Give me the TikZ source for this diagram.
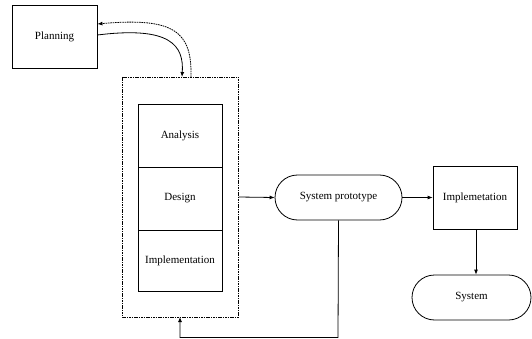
\documentclass[tikz,border=0pt]{standalone}
\usepackage{fontspec}
\setmainfont{Liberation Serif}
\usetikzlibrary{arrows.meta,shapes.misc}
\begin{document}
\begin{tikzpicture}[x=1pt,y=-1pt,
  every node/.style={font=\fontsize{11}{13}\selectfont},
  box/.style={draw,line width=0.8pt,inner sep=0pt},
  stadium/.style={draw,line width=0.8pt,rounded rectangle,inner sep=0pt},
  frame/.style={draw,dash pattern=on 1.6pt off 0.8pt,line width=0.8pt},
  link/.style={line width=0.8pt,-{Latex[length=5pt,width=4pt]}}]
\useasboundingbox (0,0) rectangle (532,339);

% planning box and the dashed frame round the iteration steps
\node[box,minimum width=85pt,minimum height=63pt] (plan) at (54.5,36.5) {Planning};
\draw[frame] (122,77) rectangle (238.5,317);
\coordinate (ftopin) at (182,77);
\coordinate (ftopout) at (191,77);
\coordinate (fbot) at (180,317);
\coordinate (fright) at (238.5,197);
\node[box,minimum width=84pt,minimum height=63pt] (ana) at (180,135.5) {Analysis};
\node[box,minimum width=84pt,minimum height=63pt] (des) at (180,198.5) {Design};
\node[box,minimum width=84pt,minimum height=61pt] (imp) at (180,260.5) {Implementation};

\node[stadium,minimum width=127pt,minimum height=45pt] (proto) at (338.5,197.5) {System prototype};
\node[box,minimum width=84pt,minimum height=63pt] (impl2) at (475,197.5) {Implemetation};
\node[stadium,minimum width=119pt,minimum height=45pt] (sys) at (471.5,297.5) {System};

% connectors
\draw[link] (plan.east |- 0,35) .. controls (170,26) and (184,45) .. (ftopin);
\draw[frame,-{Latex[length=5pt,width=4pt]}] (ftopout) .. controls (192,32) and (175,17) .. (plan.east |- 0,24);
\draw[link] (fright) -- (proto.west);
\draw[link] (proto.east) -- (impl2.west);
\draw[link] (impl2.south -| 476,0) -- (sys.north -| 476,0);
\draw[link] (proto.south) -- (338,337.5) -| (fbot);
\end{tikzpicture}
\end{document}
